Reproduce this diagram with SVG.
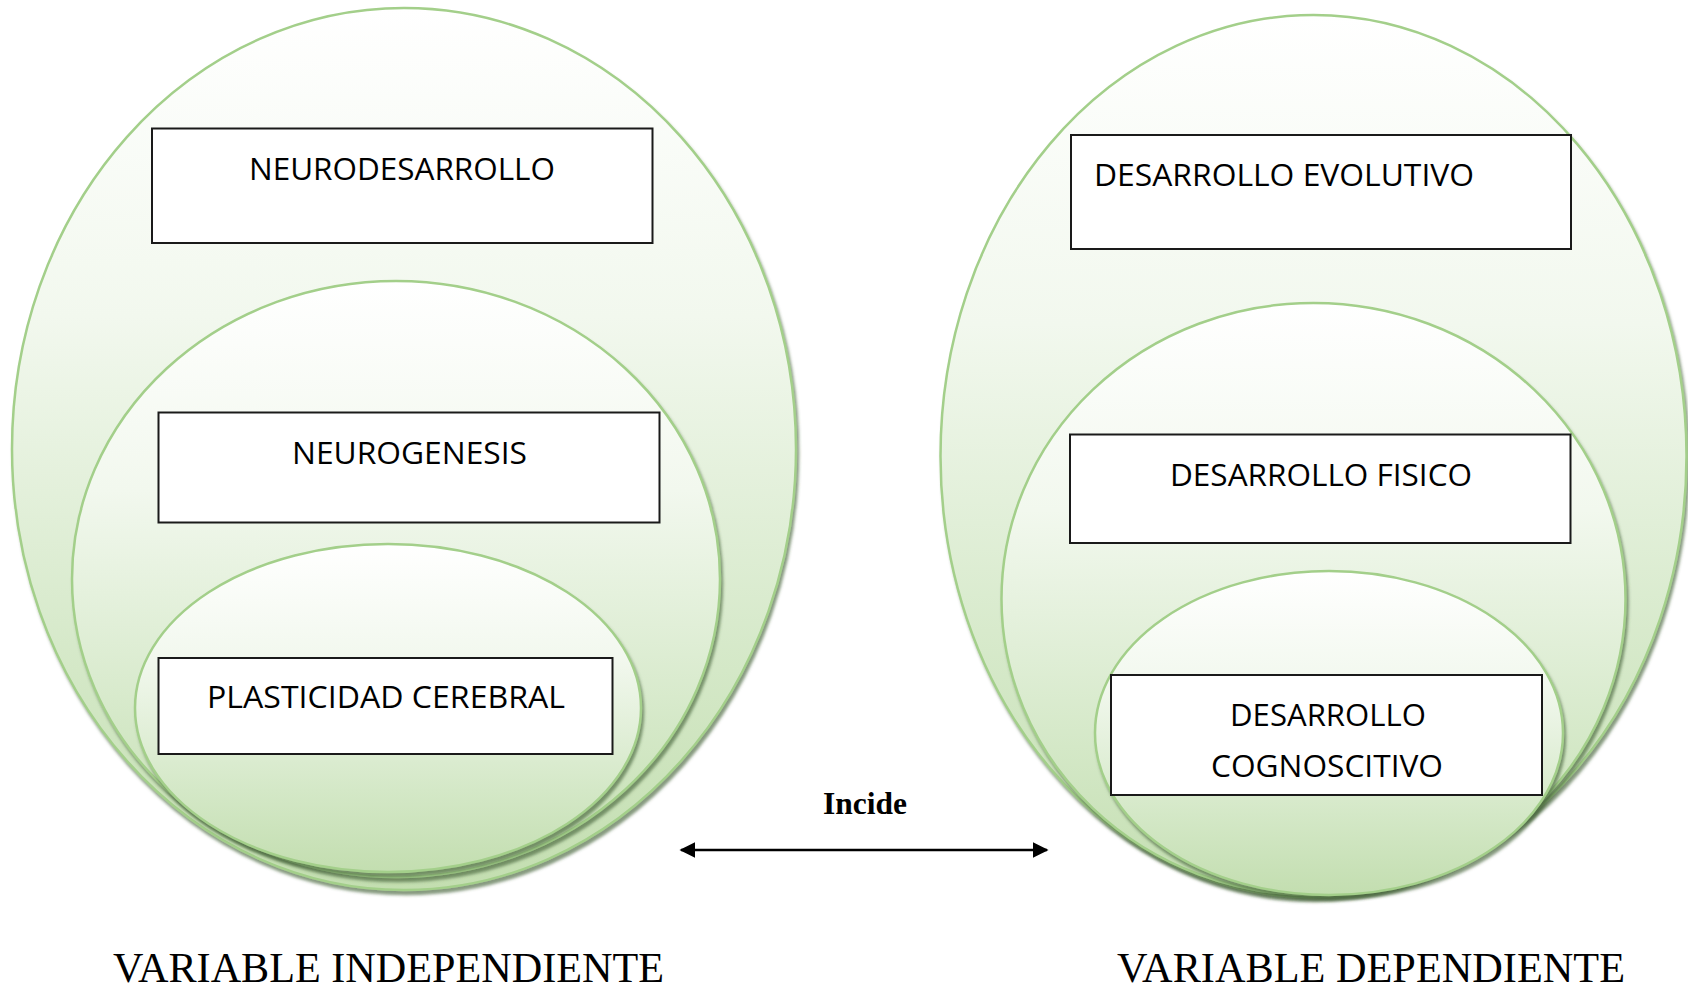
<svg xmlns="http://www.w3.org/2000/svg" width="1688" height="992" viewBox="0 0 1688 992">
<defs>
<linearGradient id="gfill" x1="0" y1="0" x2="0" y2="1">
<stop offset="0" stop-color="#ffffff"/>
<stop offset="0.35" stop-color="#f2f8ee"/>
<stop offset="0.75" stop-color="#d4e8c7"/>
<stop offset="1" stop-color="#c3deb0"/>
</linearGradient>
<filter id="shadow" x="-10%" y="-10%" width="120%" height="125%">
<feDropShadow dx="2" dy="4" stdDeviation="1.8" flood-color="#46643a" flood-opacity="0.65"/>
</filter>
<marker id="ah" viewBox="0 0 10 10" refX="9" refY="5" markerWidth="6" markerHeight="6" markerUnits="strokeWidth" orient="auto-start-reverse">
<path d="M0,0 L10,5 L0,10 Z" fill="#000"/>
</marker>
<style>
.ell{fill:url(#gfill);stroke:#a3cf8a;stroke-width:2.5;filter:url(#shadow)}
.box{fill:#fff;stroke:#1a1a1a;stroke-width:2}
.lbl{font-family:"Open Sans","Noto Sans",sans-serif;font-size:31px;fill:#000}
.var{font-family:"Liberation Serif","Times New Roman",serif;font-size:42px;fill:#000}
.inc{font-family:"Liberation Serif","Times New Roman",serif;font-size:31px;font-weight:bold;fill:#000}
</style>
</defs>
<rect width="1688" height="992" fill="#fff"/>

<g id="neurodesarrollo">
<ellipse class="ell" cx="404" cy="449" rx="392" ry="441"/>
<rect class="box" x="152" y="128.5" width="500.5" height="114.5"/>
<text class="lbl" x="249" y="180" textLength="306" lengthAdjust="spacingAndGlyphs">NEURODESARROLLO</text>
</g>
<g id="neurogenesis">
<ellipse class="ell" cx="396" cy="579" rx="324" ry="298"/>
<rect class="box" x="158.5" y="412.5" width="501" height="110"/>
<text class="lbl" x="292" y="464" textLength="235" lengthAdjust="spacingAndGlyphs">NEUROGENESIS</text>
</g>
<g id="plasticidad-cerebral">
<ellipse class="ell" cx="388" cy="708" rx="253" ry="164"/>
<rect class="box" x="158.5" y="658" width="454" height="96"/>
<text class="lbl" x="207" y="707.5" textLength="358" lengthAdjust="spacingAndGlyphs">PLASTICIDAD CEREBRAL</text>
</g>

<g id="desarrollo-evolutivo">
<ellipse class="ell" cx="1313.5" cy="456" rx="373" ry="441"/>
<rect class="box" x="1071" y="135" width="500" height="114"/>
<text class="lbl" x="1094" y="186" textLength="380" lengthAdjust="spacingAndGlyphs">DESARROLLO EVOLUTIVO</text>
</g>
<g id="desarrollo-fisico">
<ellipse class="ell" cx="1313.5" cy="599" rx="312" ry="296"/>
<rect class="box" x="1070" y="434.5" width="500.5" height="108.5"/>
<text class="lbl" x="1170" y="486" textLength="302" lengthAdjust="spacingAndGlyphs">DESARROLLO FISICO</text>
</g>
<g id="desarrollo-cognoscitivo">
<ellipse class="ell" cx="1329" cy="733" rx="234" ry="162"/>
<rect class="box" x="1111" y="675" width="431" height="120"/>
<text class="lbl" x="1230" y="726" textLength="196" lengthAdjust="spacingAndGlyphs">DESARROLLO</text>
<text class="lbl" x="1211" y="777" textLength="232" lengthAdjust="spacingAndGlyphs">COGNOSCITIVO</text>
</g>

<g id="connectors">
<line x1="681" y1="850" x2="1047" y2="850" stroke="#000" stroke-width="2.6" marker-start="url(#ah)" marker-end="url(#ah)"/>
<text class="inc" x="823" y="814" textLength="84" lengthAdjust="spacingAndGlyphs">Incide</text>
</g>

<g id="labels">
<text class="var" x="113" y="982" textLength="551" lengthAdjust="spacingAndGlyphs">VARIABLE INDEPENDIENTE</text>
<text class="var" x="1117" y="982" textLength="508" lengthAdjust="spacingAndGlyphs">VARIABLE DEPENDIENTE</text>
</g>
</svg>
